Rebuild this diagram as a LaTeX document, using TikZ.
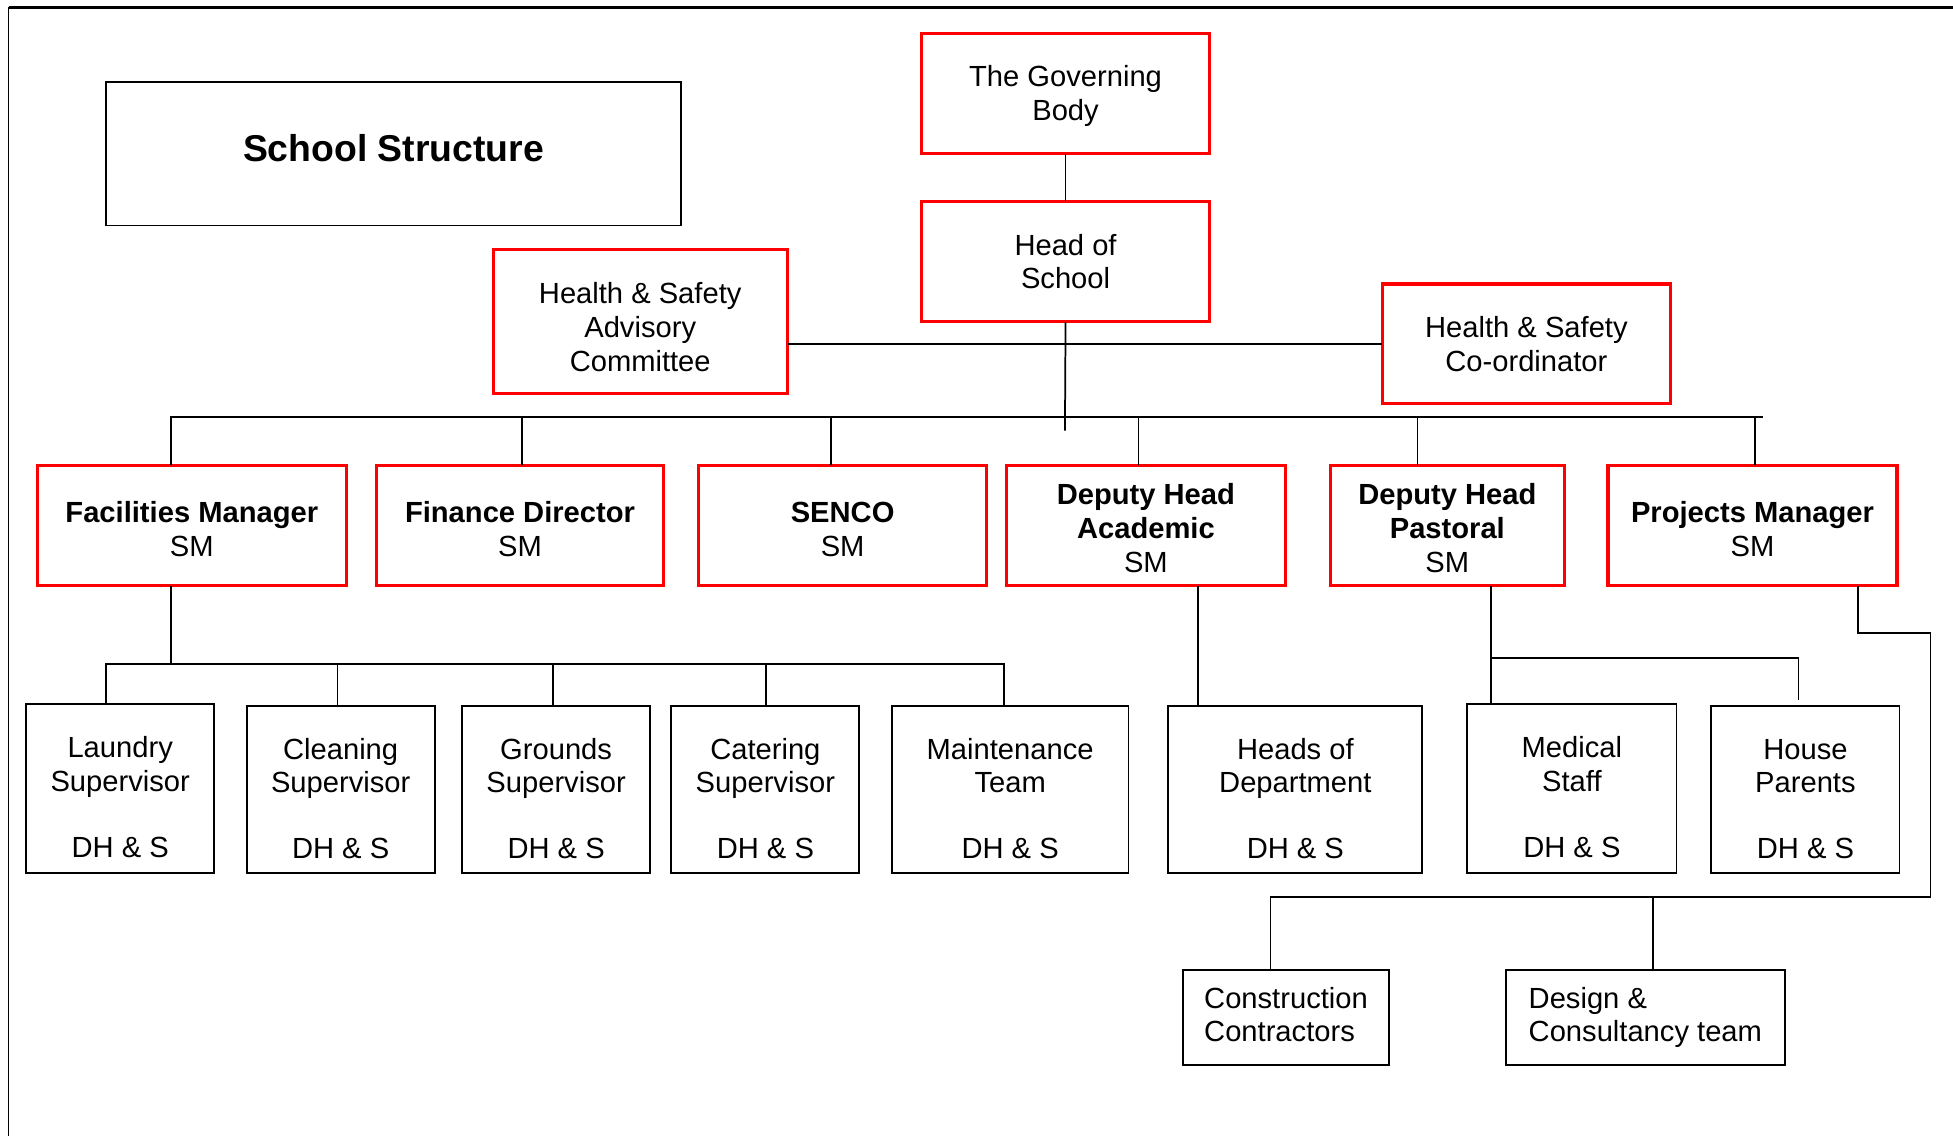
\documentclass[tikz,border=0pt]{standalone}
\usepackage{fontspec}
\setmainfont{Liberation Sans}
\newcommand\myStrut[1]{\rule{0pt}{#1pt}}
\begin{document}
\begin{tikzpicture}[x=1pt,y=-1pt,
  txt/.style={font={\fontsize{23.4}{27}\selectfont}, align=center, inner sep=0pt},
  redbox/.style={txt, draw=red, line width=2.5pt},
  blkbox/.style={txt, draw=black, line width=1.5pt},
  conn/.style={line width=1.4pt, line cap=rect}]
\useasboundingbox (0,0) rectangle (1568,912);
% frame
\draw[line width=2.5pt] (7,6) -- (1568,6);
\draw[line width=1.2pt] (7,6) -- (7,912);

% title
\node[blkbox, minimum width=462pt, minimum height=115pt, font={\fontsize{30}{36}\selectfont\bfseries}, text depth=9pt] (title) at (316,123.5) {School Structure};

% top level
\node[redbox, minimum width=231pt, minimum height=96pt] (gov) at (855.5,75) {\myStrut{21}The Governing\\Body};
\node[redbox, minimum width=231pt, minimum height=96pt] (head) at (855.5,210) {Head of\\School};
\node[redbox, minimum width=236pt, minimum height=116pt] (hsac) at (514,258) {\myStrut{26}Health \& Safety\\Advisory\\Committee};
\node[redbox, minimum width=231pt, minimum height=96pt] (hsco) at (1225.5,276) {Health \& Safety\\Co-ordinator};

% second level
\node[redbox, minimum width=248pt, minimum height=96pt] (fac) at (154,422) {\myStrut{23}\textbf{Facilities Manager}\\SM};
\node[redbox, minimum width=231pt, minimum height=96pt] (fin) at (417.5,422) {\myStrut{23}\textbf{Finance Director}\\SM};
\node[redbox, minimum width=231pt, minimum height=96pt] (senco) at (676.5,422) {\myStrut{23}\textbf{SENCO}\\SM};
\node[redbox, minimum width=224pt, minimum height=96pt] (dha) at (920,422) {\myStrut{21}\textbf{Deputy Head}\\\textbf{Academic}\\SM};
\node[redbox, minimum width=188pt, minimum height=96pt] (dhp) at (1162,422) {\myStrut{21}\textbf{Deputy Head}\\\textbf{Pastoral}\\SM};
\node[redbox, minimum width=232pt, minimum height=96pt] (pm) at (1407,422) {\myStrut{23}\textbf{Projects Manager}\\SM};

% third level
\node[blkbox, minimum width=151pt, minimum height=136pt] (laun) at (96.5,633) {\myStrut{31}Laundry\\Supervisor\\[26pt]DH \& S};
\node[blkbox, minimum width=151pt, minimum height=134pt] (clean) at (273.5,634) {\myStrut{31}Cleaning\\Supervisor\\[26pt]DH \& S};
\node[blkbox, minimum width=151pt, minimum height=134pt] (grnd) at (446.5,634) {\myStrut{31}Grounds\\Supervisor\\[26pt]DH \& S};
\node[blkbox, minimum width=151pt, minimum height=134pt] (cater) at (614.5,634) {\myStrut{31}Catering\\Supervisor\\[26pt]DH \& S};
\node[blkbox, minimum width=190pt, minimum height=134pt] (maint) at (811,634) {\myStrut{31}Maintenance\\Team\\[26pt]DH \& S};
\node[blkbox, minimum width=204pt, minimum height=134pt] (hod) at (1040,634) {\myStrut{31}Heads of\\Department\\[26pt]DH \& S};
\node[blkbox, minimum width=168pt, minimum height=136pt] (med) at (1262,633) {\myStrut{31}Medical\\Staff\\[26pt]DH \& S};
\node[blkbox, minimum width=151pt, minimum height=134pt] (house) at (1449.5,634) {\myStrut{31}House\\Parents\\[26pt]DH \& S};

% bottom level
\node[blkbox, align=left, minimum width=165pt, minimum height=76pt, text depth=5pt] (cons) at (1032.5,817) {Construction\\Contractors};
\node[blkbox, align=left, minimum width=224pt, minimum height=76pt] (design) at (1321,817) {Design \&\\Consultancy team};

% connectors
\coordinate (hend) at (855,345);
\coordinate (busL) at (137,335);
\coordinate (busR) at (1415,335);
\draw[conn] (gov.south) -- (head.north);
\draw[conn] (head.south) -- (hend);
\draw[conn] (hsac.east |- hsco.west) -- (hsco.west);
\draw[conn] (busL) -- (busR);
\foreach \x/\n in {137/fac,419/fin,667/senco,914/dha,1138/dhp,1409/pm}
  \draw[conn] (\x,335) -- (\n.north -| \x,0);

% facilities branch
\coordinate (fbL) at (85,533);
\coordinate (fbR) at (806,533);
\draw[conn] (fac.south -| 137,0) -- (137,533);
\draw[conn] (fbL) -- (fbR);
\foreach \x/\n in {85/laun,271/clean,444/grnd,615/cater,806/maint}
  \draw[conn] (\x,533) -- (\n.north -| \x,0);

% deputy academic
\draw[conn] (dha.south -| 962,0) -- (hod.north -| 962,0);
% deputy pastoral
\coordinate (hpEnd) at (1444,561);
\draw[conn] (dhp.south -| 1197,0) -- (med.north -| 1197,0);
\draw[conn] (1197,528) -- (1444,528) -- (hpEnd);
% projects manager
\coordinate (pmA) at (1492,508);
\coordinate (pmB) at (1550,508);
\coordinate (pmC) at (1550,720);
\coordinate (pmD) at (1020,720);
\draw[conn] (pm.south -| 1492,0) -- (pmA) -- (pmB) -- (pmC) -- (pmD) -- (cons.north -| 1020,0);
\draw[conn] (1327,720) -- (design.north -| 1327,0);
\end{tikzpicture}
\end{document}
